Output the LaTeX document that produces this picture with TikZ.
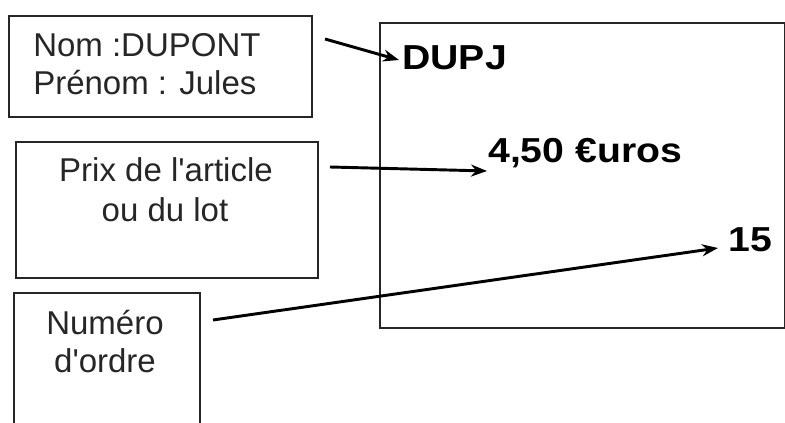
\documentclass[tikz,border=0pt]{standalone}
\usepackage{fontspec}
\setmainfont{Liberation Sans}
\usetikzlibrary{arrows.meta}
\begin{document}
\begin{tikzpicture}[x=0.75pt,y=-0.75pt,
  box/.style={draw=black!85,line width=1pt},
  lbl/.style={inner sep=0pt,anchor=base,font=\fontsize{24.75}{30}\selectfont,text=black!85},
  big/.style={inner sep=0pt,anchor=base west,font=\fontsize{26}{30}\selectfont\bfseries,xscale=1.13},
  arr/.style={line width=2.2pt,-{Stealth[length=12pt,width=9pt]}}]
\useasboundingbox (0,0) rectangle (785,423);
% boxes
\draw[box] (9,16) rectangle (312,117);
\draw[box] (16,142) rectangle (318,278);
\draw[box] (14,424) -- (14,293) -- (200,293) -- (200,424);
\draw[box] (380,23) rectangle (784.5,328);
% texts
\node[lbl,anchor=base west] (nom) at (33,57) {Nom :DUPONT};
\node[lbl,anchor=base west] (prenom) at (33,95) {Prénom : Jules};
\node[lbl] (prix) at (166,182) {Prix de l\textquotesingle article};
\node[lbl] (lot) at (165,222) {ou du lot};
\node[lbl] (num) at (105,335) {Numéro};
\node[lbl] (ordre) at (105,373) {d\textquotesingle ordre};
\node[big] (dupj) at (402,70) {DUPJ};
\node[big] (prixval) at (488,163) {4,50 €uros};
\node[big] (quinze) at (728,252) {15};
% arrows
\coordinate (a1) at (325,39);
\coordinate (e1) at (399,60);
\coordinate (a2) at (330,167);
\coordinate (e2) at (487,171);
\coordinate (a3) at (213,320);
\coordinate (e3) at (718,248);
\draw[arr] (a1) -- (e1);
\draw[arr] (a2) -- (e2);
\draw[arr] (a3) -- (e3);
\end{tikzpicture}
\end{document}
